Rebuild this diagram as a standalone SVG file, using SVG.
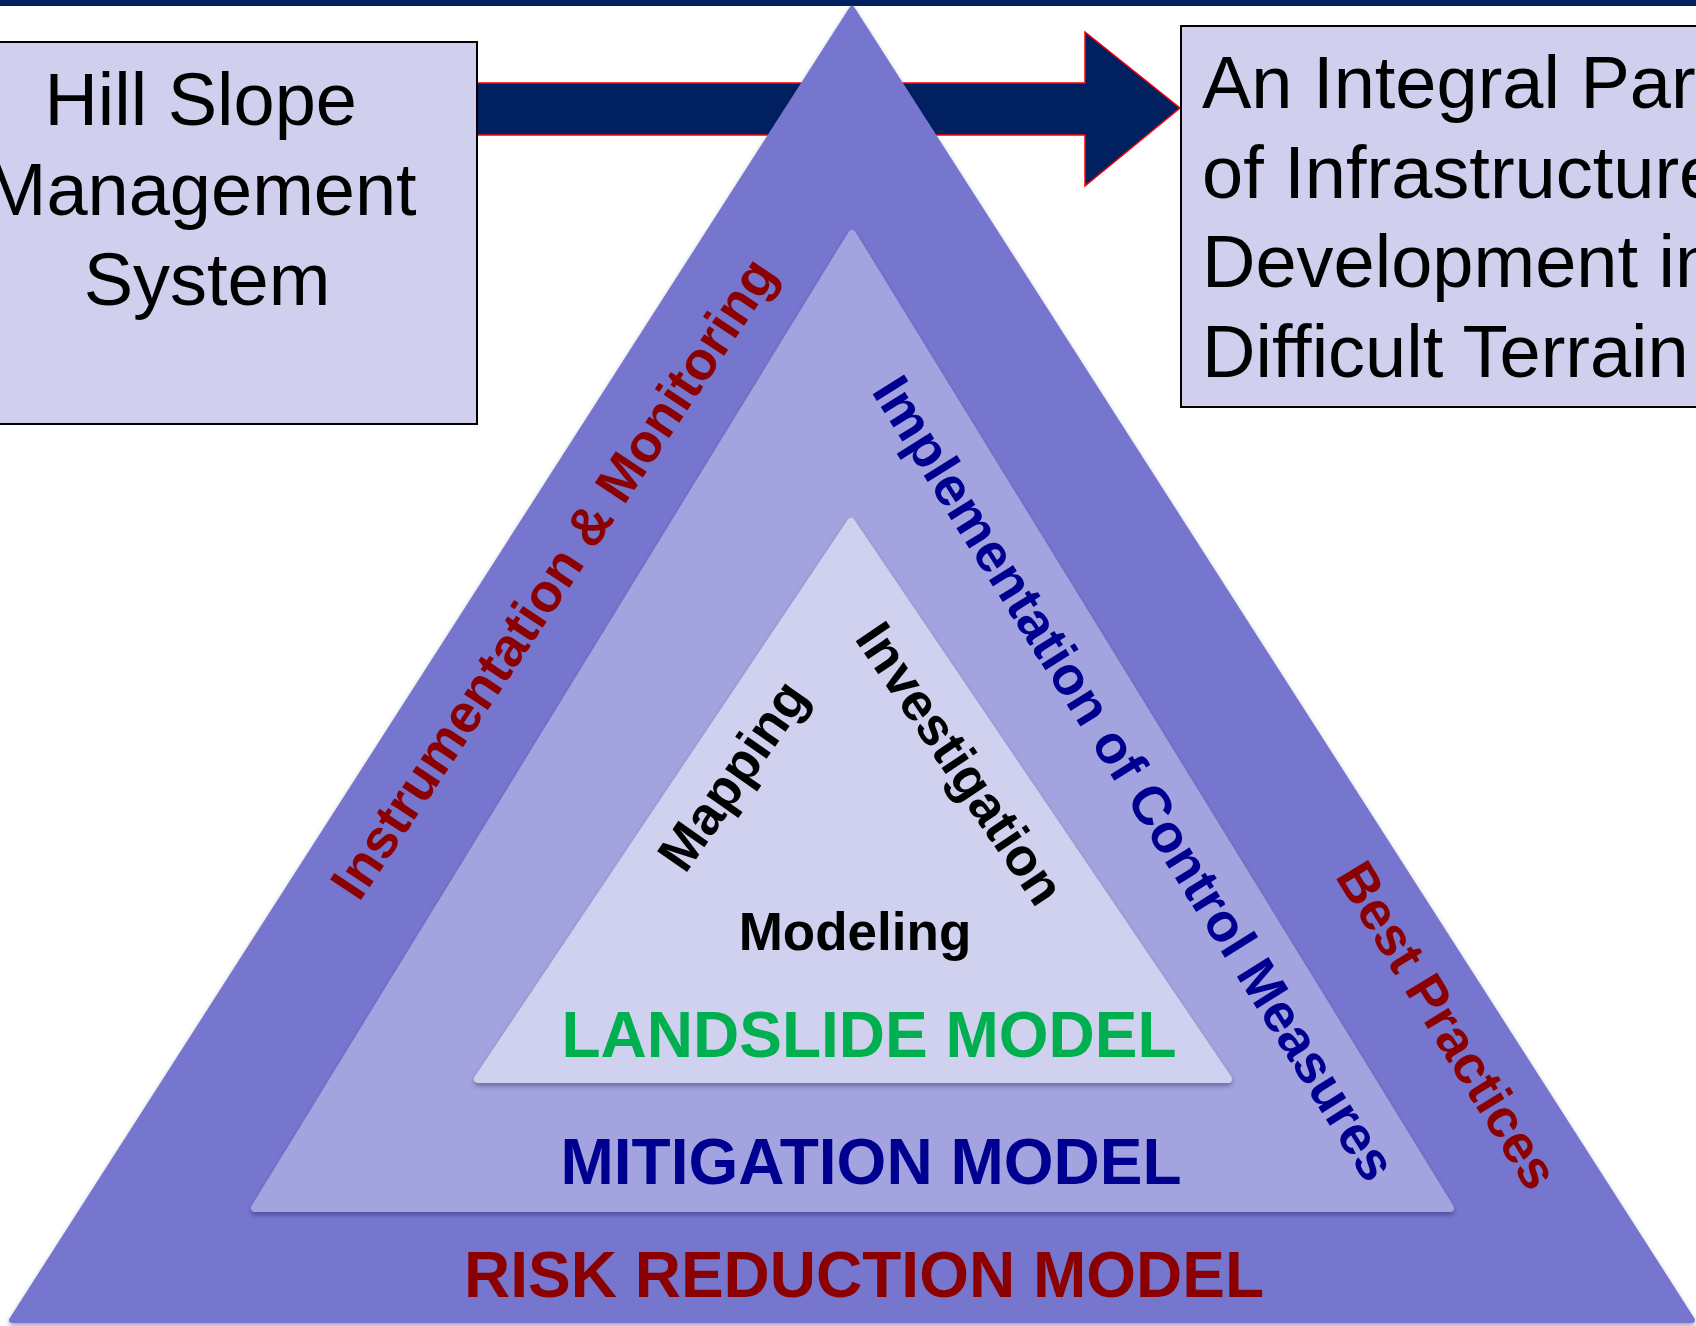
<svg xmlns="http://www.w3.org/2000/svg" width="1696" height="1326" viewBox="0 0 1696 1326">
  <defs>
    <filter id="shadow" x="-10%" y="-10%" width="120%" height="120%">
      <feDropShadow dx="0" dy="3" stdDeviation="2.5" flood-color="#000040" flood-opacity="0.35"/>
    </filter>
    <style>
      .box { fill: #D0D0EE; stroke: #000000; stroke-width: 2; }
      .boxtxt { font-family: "Liberation Sans", Arial, sans-serif; font-size: 74px; fill: #000000; }
      .lbl { font-family: "Liberation Sans", Arial, sans-serif; font-weight: bold; text-anchor: middle; }
      .red { fill: #8B0000; }
      .navy { fill: #000090; }
      .green { fill: #00B050; }
      .black { fill: #000000; }
      .rot { font-size: 54px; }
      .model { font-size: 64px; }
    </style>
  </defs>

  <rect x="0" y="0" width="1696" height="6" fill="#002060"/>

  <g id="connectors">
    <polygon id="arrow" points="466,83 1085,83 1085,32 1180,108 1085,186 1085,135 466,135" fill="#002060" stroke="#FF0000" stroke-width="1.5" stroke-linejoin="miter"/>
  </g>

  <g id="hill-slope-box">
    <rect class="box" x="-10" y="42" width="487" height="382"/>
    <text class="boxtxt" text-anchor="middle">
      <tspan x="211" y="125">Hill Slope</tspan>
      <tspan x="211" y="215">Management</tspan>
      <tspan x="207" y="305">System</tspan>
    </text>
  </g>

  <g id="integral-part-box">
    <rect class="box" x="1181" y="26" width="530" height="381"/>
    <text class="boxtxt">
      <tspan x="1202" y="108">An Integral Part</tspan>
      <tspan x="1202" y="198">of Infrastructure</tspan>
      <tspan x="1202" y="287">Development in</tspan>
      <tspan x="1202" y="377">Difficult Terrain</tspan>
    </text>
  </g>

  <g id="risk-reduction-model">
    <polygon points="852,9 12,1320 1692,1320" fill="#7676CF" stroke="#7676CF" stroke-width="6" stroke-linejoin="round" filter="url(#shadow)"/>
    <text class="lbl red model" x="864" y="1297">RISK REDUCTION MODEL</text>
    <text class="lbl red rot" transform="translate(553,578) rotate(-56.3)" y="19">Instrumentation &amp; Monitoring</text>
    <text class="lbl red rot" transform="translate(1448,1025) rotate(58.5)" y="19">Best Practices</text>
  </g>

  <g id="mitigation-model">
    <polygon points="852,234 255,1208 1450,1208" fill="#A3A3DF" stroke="#A3A3DF" stroke-width="8" stroke-linejoin="round" filter="url(#shadow)"/>
    <text class="lbl navy model" x="871" y="1184">MITIGATION MODEL</text>
    <text class="lbl navy rot" transform="translate(1135,778) rotate(58)" y="19">Implementation of Control Measures</text>
  </g>

  <g id="landslide-model">
    <polygon points="851,522 478,1079 1228,1079" fill="#D0D0EF" stroke="#D0D0EF" stroke-width="8" stroke-linejoin="round" filter="url(#shadow)"/>
    <text class="lbl green model" x="869" y="1057">LANDSLIDE MODEL</text>
    <text class="lbl black" x="855" y="950" font-size="53">Modeling</text>
    <text class="lbl black" font-size="53" transform="translate(732,775) rotate(-55)" y="19">Mapping</text>
    <text class="lbl black" font-size="53" transform="translate(961,763) rotate(56)" y="19">Investigation</text>
  </g>
</svg>
